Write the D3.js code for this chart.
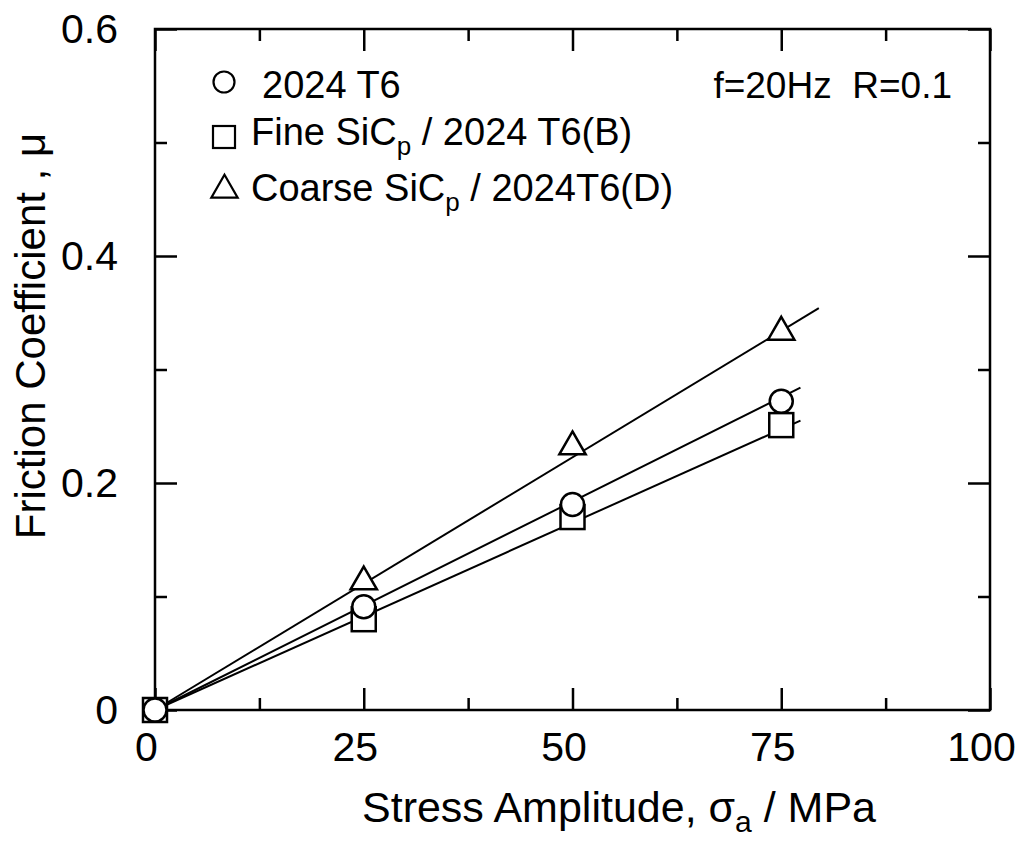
<!DOCTYPE html>
<html>
<head>
<meta charset="utf-8">
<script src="https://cdn.jsdelivr.net/npm/d3@7"></script>
<style>
    body { margin: 0; background: #fff; }
    svg { display: block; font-family: "Liberation Sans", Arial, sans-serif; }
</style>
</head>
<body>
<div id="chart"></div>
<script>
// values
const stress = [0, 25, 50, 75];
const mu2024 = [0, 0.091, 0.181, 0.272];
const muFine = [0, 0.080, 0.170, 0.251];
const muCoarse = [0, 0.113, 0.232, 0.333];

// fitted lines, end points
const fit2024 = [[0, 0], [77.3, 0.284]];
const fitFine = [[0, 0], [77.3, 0.255]];
const fitCoarse = [[0, 0], [79.5, 0.354]];

const xMajor = [0, 25, 50, 75, 100];
const xMinor = [12.5, 37.5, 62.5, 87.5];
const yMajor = [0, 0.2, 0.4, 0.6];
const yMinor = [0.1, 0.3, 0.5];

const seriesNames = ['2024 T6', 'Fine SiC', 'Coarse SiC'];

const width = 1018, height = 849;
const margin = [29, 28, 139, 155]; // top, right, bottom, left
const innerW = width - margin[1] - margin[3];
const innerH = height - margin[0] - margin[2];

const svg = d3.select('#chart').append('svg')
    .attr('width', width)
    .attr('height', height);

const g = svg.append('g')
    .attr('transform', `translate(${margin[3]}, ${margin[0]})`);

const x = d3.scaleLinear().domain([0, 100]).range([0, innerW]);
const y = d3.scaleLinear().domain([0, 0.6]).range([innerH, 0]);

// ticks (all pointing inward)
function ticks(axis, vals, size, pad, fmt) {
    return axis.tickValues(vals).tickSize(-size).tickPadding(pad).tickFormat(fmt);
}
const noLabel = () => '';
const yFmt = d => d === 0 ? '0' : d3.format('.1f')(d);

const axes = [
    g.append('g').attr('transform', `translate(0, ${innerH})`).call(ticks(d3.axisBottom(x), xMajor, 22, 22, d3.format('d'))),
    g.append('g').attr('transform', `translate(0, ${innerH})`).call(ticks(d3.axisBottom(x), xMinor, 12, 0, noLabel)),
    g.append('g').call(ticks(d3.axisTop(x), xMajor, 22, 0, noLabel)),
    g.append('g').call(ticks(d3.axisTop(x), xMinor, 12, 0, noLabel)),
    g.append('g').call(ticks(d3.axisLeft(y), yMajor, 22, 37, yFmt)),
    g.append('g').call(ticks(d3.axisLeft(y), yMinor, 12, 0, noLabel)),
    g.append('g').attr('transform', `translate(${innerW}, 0)`).call(ticks(d3.axisRight(y), yMajor, 22, 0, noLabel)),
    g.append('g').attr('transform', `translate(${innerW}, 0)`).call(ticks(d3.axisRight(y), yMinor, 12, 0, noLabel))
];
axes.forEach(a => {
    a.select('.domain').remove();
    a.selectAll('.tick line').attr('stroke', '#000').attr('stroke-width', 2.5);
    a.selectAll('.tick text')
        .attr('fill', '#000')
        .style('font-size', '41px')
        .style('font-family', '"Liberation Sans", Arial, sans-serif');
});
axes[0].selectAll('.tick text').attr('dx', -9);

// frame
g.append('rect')
    .attr('width', innerW)
    .attr('height', innerH)
    .attr('fill', 'none')
    .attr('stroke', '#000')
    .attr('stroke-width', 2.5);

// fit lines
const line = d3.line().x(d => x(d[0])).y(d => y(d[1]));
g.selectAll('.fit')
    .data([fitFine, fit2024, fitCoarse])
    .join('path')
    .attr('class', 'fit')
    .attr('fill', 'none')
    .attr('stroke', '#000')
    .attr('stroke-width', 2)
    .attr('d', line);

// markers
const pts = vals => stress.map((s, i) => ({ s, v: vals[i] }));
const triangle = d3.symbol(d3.symbolTriangle, 300);

g.selectAll('.sq')
    .data(pts(muFine))
    .join('rect')
    .attr('class', 'sq')
    .attr('x', d => x(d.s) - 12)
    .attr('y', d => y(d.v) - 12)
    .attr('width', 24)
    .attr('height', 24)
    .attr('fill', '#fff')
    .attr('stroke', '#000')
    .attr('stroke-width', 2.5);

g.selectAll('.tri')
    .data(pts(muCoarse).slice(1))
    .join('path')
    .attr('class', 'tri')
    .attr('transform', d => `translate(${x(d.s)}, ${y(d.v)})`)
    .attr('d', triangle)
    .attr('fill', '#fff')
    .attr('stroke', '#000')
    .attr('stroke-width', 2.5);

g.selectAll('.ci')
    .data(pts(mu2024))
    .join('circle')
    .attr('class', 'ci')
    .attr('cx', d => x(d.s))
    .attr('cy', d => y(d.v))
    .attr('r', 11.5)
    .attr('fill', '#fff')
    .attr('stroke', '#000')
    .attr('stroke-width', 2.5);

// legend
const leg = svg.append('g');
leg.append('circle').attr('cx', 224).attr('cy', 82).attr('r', 10.5)
    .attr('fill', '#fff').attr('stroke', '#000').attr('stroke-width', 2.2);
leg.append('rect').attr('x', 213).attr('y', 126).attr('width', 22).attr('height', 22)
    .attr('fill', '#fff').attr('stroke', '#000').attr('stroke-width', 2.2);
leg.append('path').attr('transform', 'translate(224.5, 190)')
    .attr('d', d3.symbol(d3.symbolTriangle, 300)())
    .attr('fill', '#fff').attr('stroke', '#000').attr('stroke-width', 2.2);

const legText = [
    { x: 262, y: 98, name: seriesNames[0], sub: null, rest: '' },
    { x: 251, y: 145, name: seriesNames[1], sub: 'p', rest: ' / 2024 T6(B)' },
    { x: 251, y: 201, name: seriesNames[2], sub: 'p', rest: ' / 2024T6(D)' }
];
legText.forEach(d => {
    const t = leg.append('text')
        .attr('x', d.x)
        .attr('y', d.y)
        .style('font-size', '38px');
    t.append('tspan').text(d.name);
    if (d.sub) {
        t.append('tspan').attr('dy', 10).style('font-size', '26px').text(d.sub);
        t.append('tspan').attr('dy', -10).text(d.rest);
    }
});

svg.append('text')
    .attr('x', 952)
    .attr('y', 98)
    .attr('text-anchor', 'end')
    .style('font-size', '37px')
    .style('white-space', 'pre')
    .text('f=20Hz  R=0.1');

// axis titles
const xt = svg.append('text')
    .attr('x', 362)
    .attr('y', 822)
    .style('font-size', '43px');
xt.append('tspan').text('Stress Amplitude, σ');
xt.append('tspan').attr('dy', 10).style('font-size', '30px').text('a');
xt.append('tspan').attr('dy', -10).text(' / MPa');

svg.append('text')
    .attr('transform', 'translate(45, 336) rotate(-90)')
    .attr('text-anchor', 'middle')
    .style('font-size', '42px')
    .text('Friction Coefficient , μ');
</script>
</body>
</html>
